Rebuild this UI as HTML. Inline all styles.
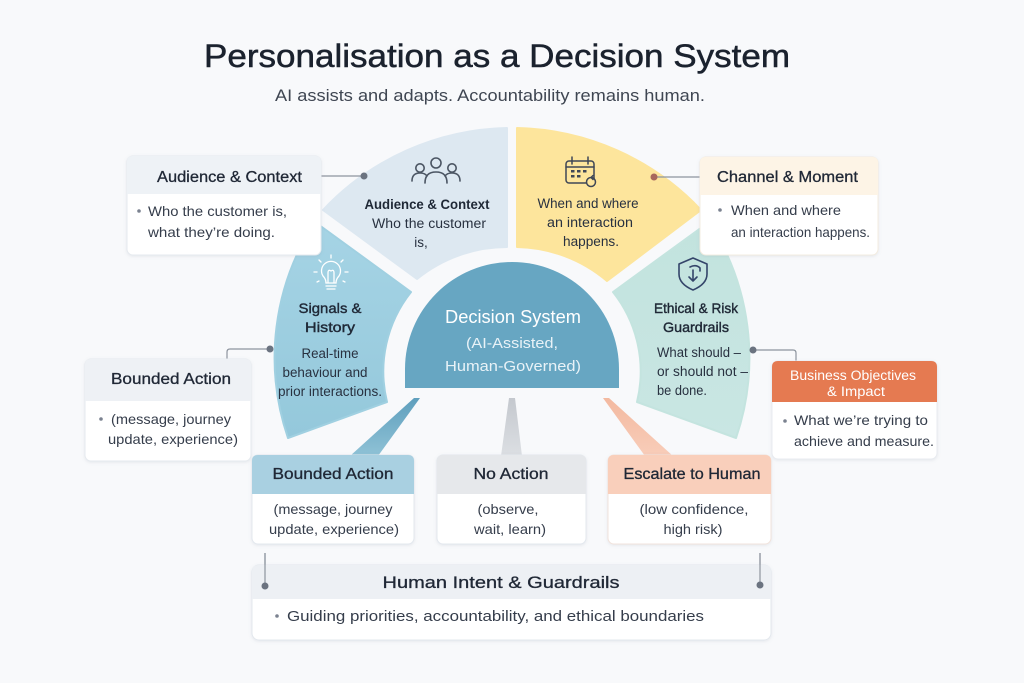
<!DOCTYPE html>
<html><head><meta charset="utf-8"><style>
html,body{margin:0;padding:0;background:#f8f9fb;}
svg{display:block;}
text{font-family:"Liberation Sans","DejaVu Sans",sans-serif;}
.h{fill:#202836;stroke:#202836;stroke-width:0.3;}
.b{fill:#353d4b;}
.s{fill:#283140;}
.sb{fill:#1f2836;font-weight:bold;}
</style></head><body>
<svg width="1024" height="683" viewBox="0 0 1024 683" xmlns="http://www.w3.org/2000/svg">
<defs>
<linearGradient id="gSig" x1="0" y1="0" x2="0" y2="1"><stop offset="0" stop-color="#a6d4e5"/><stop offset="1" stop-color="#94c8db"/></linearGradient>
<linearGradient id="gEth" x1="0" y1="0" x2="0" y2="1"><stop offset="0" stop-color="#c2e3de"/><stop offset="1" stop-color="#c9e6e3"/></linearGradient>
<linearGradient id="gBlue" x1="0" y1="0" x2="0" y2="1"><stop offset="0" stop-color="#5f9fbd"/><stop offset="1" stop-color="#8fc2d6"/></linearGradient>
<linearGradient id="gSal" x1="0" y1="0" x2="0" y2="1"><stop offset="0" stop-color="#f3b9a0"/><stop offset="1" stop-color="#f8cdb9"/></linearGradient>
<linearGradient id="gGrey" x1="0" y1="0" x2="0" y2="1"><stop offset="0" stop-color="#c4c8ce"/><stop offset="1" stop-color="#dcdfe3"/></linearGradient>
<filter id="sh" x="-10%" y="-10%" width="120%" height="130%"><feDropShadow dx="0" dy="1" stdDeviation="1.5" flood-color="#7a879a" flood-opacity="0.16"/></filter>
</defs>
<rect width="1024" height="683" fill="#f8f9fb"/>

<!-- Title -->
<text x="204" y="67" font-size="32" fill="#1b222e" stroke="#1b222e" stroke-width="0.5" textLength="586" lengthAdjust="spacingAndGlyphs">Personalisation as a Decision System</text>
<text x="275" y="101" font-size="17" fill="#3f4652" textLength="430" lengthAdjust="spacingAndGlyphs">AI assists and adapts. Accountability remains human.</text>

<!-- Wheel segments -->
<path d="M323,210 A260,260 0 0 1 507,128 L507,247 A143,143 0 0 0 417,279 Z" fill="#dde8f1" stroke="#dde8f1" stroke-width="2" stroke-linejoin="round"/>
<path d="M517,128 A260,260 0 0 1 701,210 L607,281 A143,143 0 0 0 517,247 Z" fill="#fde59c" stroke="#fde59c" stroke-width="2" stroke-linejoin="round"/>
<path d="M315,222 A248,248 0 0 0 288,438 L387,402 A128,128 0 0 1 411,292 Z" fill="url(#gSig)" stroke="#a0d0e1" stroke-width="2" stroke-linejoin="round"/>
<path d="M709,222 A248,248 0 0 1 736,438 L637,402 A128,128 0 0 0 613,292 Z" fill="url(#gEth)" stroke="#c4e4df" stroke-width="2" stroke-linejoin="round"/>
<path d="M405,388 L405,369 A107,107 0 0 1 619,369 L619,388 Z" fill="#67a6c2"/>

<!-- pointers -->
<polygon points="414,398 420,398 378,456 350,456" fill="url(#gBlue)"/>
<polygon points="509,398 515,398 522,456 501,456" fill="url(#gGrey)"/>
<polygon points="603,398 609,398 673,456 645,456" fill="url(#gSal)"/>

<!-- Dome text -->
<text x="513" y="323" font-size="18" fill="#ffffff" text-anchor="middle" textLength="136" lengthAdjust="spacingAndGlyphs">Decision System</text>
<text x="512" y="348" font-size="15" fill="#e8f2f7" text-anchor="middle" textLength="92" lengthAdjust="spacingAndGlyphs">(AI-Assisted,</text>
<text x="513" y="371" font-size="15" fill="#e8f2f7" text-anchor="middle" textLength="136" lengthAdjust="spacingAndGlyphs">Human-Governed)</text>

<!-- Audience segment -->
<g fill="none" stroke="#4b5563" stroke-width="1.6" stroke-linecap="round">
<circle cx="420" cy="168" r="4.2"/>
<path d="M412,181 Q412,173 420,173 Q425,173 427,176"/>
<circle cx="436" cy="163" r="5"/>
<path d="M425,183 Q425,172 436,172 Q447,172 447,183"/>
<circle cx="452" cy="168" r="4.2"/>
<path d="M445,176 Q447,173 452,173 Q460,173 460,181"/>
</g>
<text class="sb" x="427" y="209" font-size="13.5" text-anchor="middle" textLength="125" lengthAdjust="spacingAndGlyphs">Audience &amp; Context</text>
<text class="s" x="429" y="228" font-size="13.5" text-anchor="middle" textLength="114" lengthAdjust="spacingAndGlyphs">Who the customer</text>
<text class="s" x="421" y="247" font-size="13.5" text-anchor="middle">is,</text>

<!-- Yellow segment -->
<g fill="none" stroke="#3f4756" stroke-width="1.5" stroke-linecap="round">
<rect x="566" y="161" width="28" height="22" rx="3"/>
<line x1="566" y1="167" x2="594" y2="167"/>
<line x1="572" y1="157" x2="572" y2="164"/>
<line x1="588" y1="157" x2="588" y2="164"/>
<circle cx="591" cy="182" r="4.5" fill="#fde59c"/>
<path d="M591,177.5 L593,175.5 M591,177.5 L593,179.5"/>
</g>
<g fill="#3f4756">
<rect x="571" y="170" width="3.5" height="2.5"/><rect x="577" y="170" width="3.5" height="2.5"/><rect x="583" y="170" width="3.5" height="2.5"/>
<rect x="571" y="175" width="3.5" height="2.5"/><rect x="577" y="175" width="3.5" height="2.5"/>
</g>
<text class="s" x="588" y="208" font-size="13.5" text-anchor="middle" textLength="101" lengthAdjust="spacingAndGlyphs">When and where</text>
<text class="s" x="590" y="227" font-size="13.5" text-anchor="middle" textLength="86" lengthAdjust="spacingAndGlyphs">an interaction</text>
<text class="s" x="591" y="246" font-size="13.5" text-anchor="middle" textLength="56" lengthAdjust="spacingAndGlyphs">happens.</text>

<!-- Signals segment -->
<g fill="none" stroke="#ffffff" stroke-width="1.3" stroke-linecap="round">
<path d="M326,283 Q326,279 323,276 A9.5,9.5 0 1 1 339,276 Q336,279 336,283 Z"/>
<line x1="326" y1="286" x2="336" y2="286"/>
<line x1="327" y1="289" x2="335" y2="289"/>
<path d="M328,283 L328,273 Q328,269 331,271 Q334,269 334,273 L334,283"/>
<line x1="331" y1="255" x2="331" y2="258"/>
<line x1="319" y1="260" x2="321" y2="262"/>
<line x1="343" y1="260" x2="341" y2="262"/>
<line x1="314" y1="272" x2="317" y2="272"/>
<line x1="345" y1="272" x2="348" y2="272"/>
<line x1="317" y1="282" x2="319" y2="281"/>
<line x1="345" y1="282" x2="343" y2="281"/>
</g>
<text class="sb" x="330" y="313" font-size="14" text-anchor="middle" textLength="63" lengthAdjust="spacingAndGlyphs" style="font-weight:normal;stroke:#1f2836;stroke-width:0.4">Signals &amp;</text>
<text class="sb" x="330" y="332" font-size="14" text-anchor="middle" textLength="50" lengthAdjust="spacingAndGlyphs" style="font-weight:normal;stroke:#1f2836;stroke-width:0.4">History</text>
<text class="s" x="330" y="358" font-size="13.5" text-anchor="middle" textLength="57" lengthAdjust="spacingAndGlyphs">Real-time</text>
<text class="s" x="325" y="377" font-size="13.5" text-anchor="middle" textLength="85" lengthAdjust="spacingAndGlyphs">behaviour and</text>
<text class="s" x="330" y="396" font-size="13.5" text-anchor="middle" textLength="104" lengthAdjust="spacingAndGlyphs">prior interactions.</text>

<!-- Ethical segment -->
<g fill="none" stroke="#34456a" stroke-width="1.6" stroke-linecap="round" stroke-linejoin="round">
<path d="M693,258 L707,264 L707,274 Q707,284 693,290 Q679,284 679,274 L679,264 Z"/>
<path d="M693,270 L693,281 M689,277 L693,281 L697,277"/>
<path d="M690,267 Q696,264 700,268 L700,271"/>
</g>
<text class="sb" x="696" y="313" font-size="14" text-anchor="middle" textLength="84" lengthAdjust="spacingAndGlyphs" style="font-weight:normal;stroke:#1f2836;stroke-width:0.4">Ethical &amp; Risk</text>
<text class="sb" x="696" y="332" font-size="14" text-anchor="middle" textLength="66" lengthAdjust="spacingAndGlyphs" style="font-weight:normal;stroke:#1f2836;stroke-width:0.4">Guardrails</text>
<text class="s" x="657" y="357" font-size="13.5" textLength="84" lengthAdjust="spacingAndGlyphs">What should –</text>
<text class="s" x="657" y="376" font-size="13.5" textLength="91" lengthAdjust="spacingAndGlyphs">or should not –</text>
<text class="s" x="657" y="395" font-size="13.5" textLength="50" lengthAdjust="spacingAndGlyphs">be done.</text>

<!-- Connectors -->
<g fill="none" stroke="#8d949e" stroke-width="1.2">
<line x1="321" y1="176" x2="364" y2="176"/>
<line x1="654" y1="177" x2="700" y2="177"/>
<path d="M227,359 L227,352 Q227,349 230,349 L270,349"/>
<path d="M753,350 L793,350 Q796,350 796,353 L796,361"/>
<line x1="265" y1="553" x2="265" y2="586"/>
<line x1="760" y1="553" x2="760" y2="585"/>
</g>
<g fill="#6b7380">
<circle cx="364" cy="176" r="3.5"/>
<circle cx="270" cy="349" r="3.5"/>
<circle cx="753" cy="350" r="3.5"/>
<circle cx="265" cy="586" r="3.5"/>
<circle cx="760" cy="585" r="3.5"/>
</g>
<circle cx="654" cy="177" r="3.5" fill="#a8675d"/>

<!-- Audience box -->
<g filter="url(#sh)">
<rect x="127" y="156" width="194" height="99" rx="6" fill="#ffffff" stroke="#e6eaef"/>
<path d="M127,162 Q127,156 133,156 L315,156 Q321,156 321,162 L321,194 L127,194 Z" fill="#eef2f6"/>
</g>
<text class="h" x="229.5" y="182" font-size="15.5" text-anchor="middle" textLength="145" lengthAdjust="spacingAndGlyphs">Audience &amp; Context</text>
<circle cx="139" cy="211" r="1.8" fill="#7b8290"/>
<text class="b" x="148" y="216" font-size="14" textLength="139" lengthAdjust="spacingAndGlyphs">Who the customer is,</text>
<text class="b" x="148" y="237" font-size="14" textLength="127" lengthAdjust="spacingAndGlyphs">what they’re doing.</text>

<!-- Channel box -->
<g filter="url(#sh)">
<rect x="700" y="157" width="178" height="98" rx="6" fill="#ffffff" stroke="#f3ece0"/>
<path d="M700,163 Q700,157 706,157 L872,157 Q878,157 878,163 L878,195 L700,195 Z" fill="#fdf4e6"/>
</g>
<text class="h" x="717" y="182" font-size="15.5" textLength="141" lengthAdjust="spacingAndGlyphs">Channel &amp; Moment</text>
<circle cx="720" cy="210" r="1.8" fill="#7b8290"/>
<text class="b" x="731" y="215" font-size="14" textLength="110" lengthAdjust="spacingAndGlyphs">When and where</text>
<text class="b" x="731" y="237" font-size="14" textLength="139" lengthAdjust="spacingAndGlyphs">an interaction happens.</text>

<!-- Left Bounded Action box -->
<g filter="url(#sh)">
<rect x="85" y="359" width="166" height="102" rx="6" fill="#ffffff" stroke="#e6eaef"/>
<path d="M85,365 Q85,359 91,359 L245,359 Q251,359 251,365 L251,401 L85,401 Z" fill="#eef1f5"/>
</g>
<text class="h" x="111" y="384" font-size="15.5" textLength="120" lengthAdjust="spacingAndGlyphs">Bounded Action</text>
<circle cx="101" cy="419" r="1.8" fill="#7b8290"/>
<text class="b" x="111" y="424" font-size="14" textLength="120" lengthAdjust="spacingAndGlyphs">(message, journey</text>
<text class="b" x="108" y="444" font-size="14" textLength="130" lengthAdjust="spacingAndGlyphs">update, experience)</text>

<!-- Business box -->
<g filter="url(#sh)">
<rect x="772" y="361" width="165" height="98" rx="6" fill="#ffffff" stroke="#e8ebf0"/>
<path d="M772,367 Q772,361 778,361 L931,361 Q937,361 937,367 L937,402 L772,402 Z" fill="#e57a51"/>
</g>
<text x="853" y="380" font-size="13.5" fill="#ffffff" text-anchor="middle" textLength="126" lengthAdjust="spacingAndGlyphs">Business Objectives</text>
<text x="856" y="396" font-size="13.5" fill="#ffffff" text-anchor="middle" textLength="58" lengthAdjust="spacingAndGlyphs">&amp; Impact</text>
<circle cx="785" cy="421" r="1.8" fill="#7b8290"/>
<text class="b" x="794" y="425" font-size="14" textLength="134" lengthAdjust="spacingAndGlyphs">What we’re trying to</text>
<text class="b" x="794" y="446" font-size="14" textLength="140" lengthAdjust="spacingAndGlyphs">achieve and measure.</text>

<!-- Bottom boxes -->
<g filter="url(#sh)">
<rect x="252" y="455" width="162" height="89" rx="6" fill="#ffffff" stroke="#e3e8ee"/>
<path d="M252,461 Q252,455 258,455 L408,455 Q414,455 414,461 L414,494 L252,494 Z" fill="#a9d0e1"/>
<rect x="437" y="455" width="149" height="89" rx="6" fill="#ffffff" stroke="#e3e8ee"/>
<path d="M437,461 Q437,455 443,455 L580,455 Q586,455 586,461 L586,494 L437,494 Z" fill="#e6e8eb"/>
<rect x="608" y="455" width="163" height="89" rx="6" fill="#ffffff" stroke="#f1e3dc"/>
<path d="M608,461 Q608,455 614,455 L765,455 Q771,455 771,461 L771,494 L608,494 Z" fill="#f9cfbb"/>
</g>
<text class="h" x="333" y="479" font-size="15.5" text-anchor="middle" textLength="121" lengthAdjust="spacingAndGlyphs">Bounded Action</text>
<text class="b" x="333" y="514" font-size="14" text-anchor="middle" textLength="119" lengthAdjust="spacingAndGlyphs">(message, journey</text>
<text class="b" x="334" y="534" font-size="14" text-anchor="middle" textLength="130" lengthAdjust="spacingAndGlyphs">update, experience)</text>
<text class="h" x="511" y="479" font-size="15.5" text-anchor="middle" textLength="75" lengthAdjust="spacingAndGlyphs">No Action</text>
<text class="b" x="508" y="514" font-size="14" text-anchor="middle" textLength="61" lengthAdjust="spacingAndGlyphs">(observe,</text>
<text class="b" x="510" y="534" font-size="14" text-anchor="middle" textLength="72" lengthAdjust="spacingAndGlyphs">wait, learn)</text>
<text class="h" x="692" y="479" font-size="15.5" text-anchor="middle" textLength="137" lengthAdjust="spacingAndGlyphs">Escalate to Human</text>
<text class="b" x="694" y="514" font-size="14" text-anchor="middle" textLength="109" lengthAdjust="spacingAndGlyphs">(low confidence,</text>
<text class="b" x="693" y="534" font-size="14" text-anchor="middle" textLength="59" lengthAdjust="spacingAndGlyphs">high risk)</text>

<!-- Human Intent box -->
<g filter="url(#sh)">
<rect x="252" y="565" width="519" height="75" rx="7" fill="#ffffff" stroke="#e3e8ee"/>
<path d="M252,572 Q252,565 259,565 L764,565 Q771,565 771,572 L771,599 L252,599 Z" fill="#edf0f4"/>
</g>
<line x1="265" y1="553" x2="265" y2="586" stroke="#8d949e" stroke-width="1.2"/>
<line x1="760" y1="553" x2="760" y2="585" stroke="#8d949e" stroke-width="1.2"/>
<circle cx="265" cy="586" r="3.5" fill="#6b7380"/>
<circle cx="760" cy="585" r="3.5" fill="#6b7380"/>
<text class="h" x="501" y="588" font-size="17" text-anchor="middle" textLength="237" lengthAdjust="spacingAndGlyphs">Human Intent &amp; Guardrails</text>
<circle cx="277" cy="616" r="1.8" fill="#7b8290"/>
<text class="b" x="287" y="621" font-size="14.5" textLength="417" lengthAdjust="spacingAndGlyphs">Guiding priorities, accountability, and ethical boundaries</text>
</svg>
</body></html>
